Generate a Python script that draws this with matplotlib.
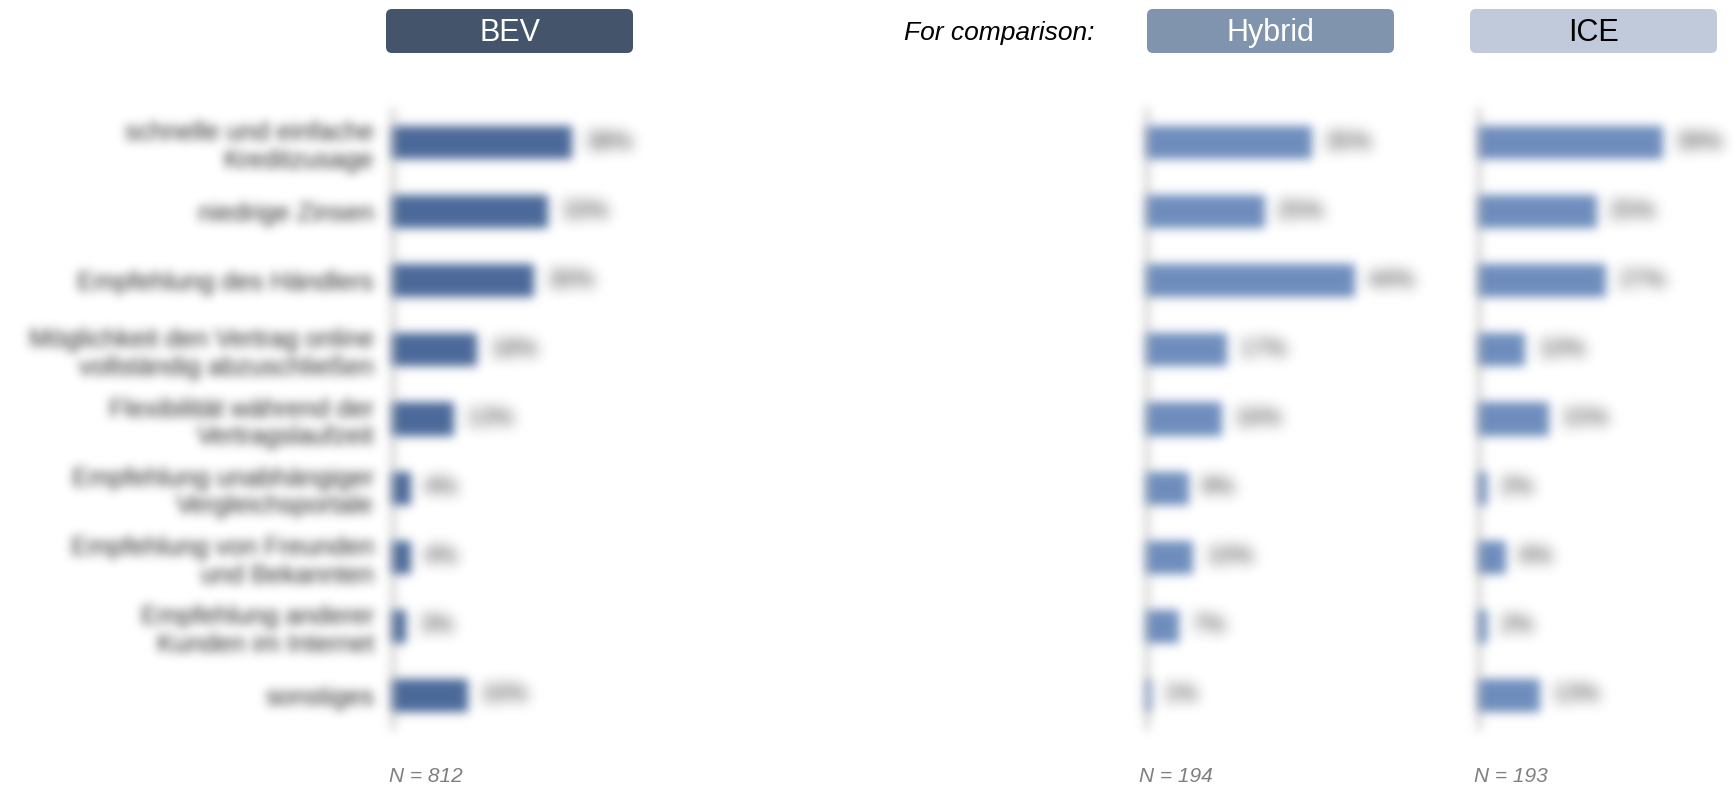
import numpy as np
import matplotlib
matplotlib.use("Agg")
import matplotlib.pyplot as plt
from matplotlib.patches import FancyBboxPatch

plt.rcParams['font.family'] = ['Liberation Sans', 'DejaVu Sans']

# Gründe für die Wahl der Finanzierung, nach Antriebsart (Anteile in %)
categories = [
    "schnelle und einfache\nKreditzusage",
    "niedrige Zinsen",
    "Empfehlung des Händlers",
    "Möglichkeit den Vertrag online\nvollständig abzuschließen",
    "Flexibilität während der\nVertragslaufzeit",
    "Empfehlung unabhängiger\nVergleichsportale",
    "Empfehlung von Freunden\nund Bekannten",
    "Empfehlung anderer\nKunden im Internet",
    "sonstiges",
]
bev = [38, 33, 30, 18, 13, 4, 4, 3, 16]
hybrid = [35, 25, 44, 17, 16, 9, 10, 7, 1]
ice = [39, 25, 27, 10, 15, 2, 6, 2, 13]

groups = ["BEV", "Hybrid", "ICE"]
sample_sizes = [812, 194, 193]

W, H = 1734, 788
px_per_pct = 4.74


def blur(img, dpi, sigma=5.0):
    # gaussian blur for agg_filter; colours are premultiplied so edges don't darken
    r = int(3 * sigma)
    x = np.arange(-r, r + 1)
    k = np.exp(-x ** 2 / (2 * sigma ** 2))
    k /= k.sum()
    p = np.pad(img, ((r, r), (r, r), (0, 0)))
    p[..., :3] *= p[..., 3:4]
    tmp = np.zeros_like(p)
    for i, w in enumerate(k):
        tmp += w * np.roll(p, i - r, axis=0)
    out = np.zeros_like(p)
    for i, w in enumerate(k):
        out += w * np.roll(tmp, i - r, axis=1)
    a = out[..., 3:4]
    out[..., :3] = np.where(a > 1e-6, out[..., :3] / np.maximum(a, 1e-6), 0)
    return np.clip(out, 0, 1), -r, -r


fig = plt.figure(figsize=(W / 100, H / 100), dpi=100)

# pixel-coordinate layer for headers and footers
canvas = fig.add_axes([0, 0, 1, 1], zorder=0)
canvas.set_xlim(0, W)
canvas.set_ylim(H, 0)
canvas.axis("off")

panels = [
    (bev, 392, 310, "#4a6899"),
    (hybrid, 1146, 292, "#6e8dbd"),
    (ice, 1478, 252, "#6e8dbd"),
]
ax_top, ax_bottom = 108, 730
y = np.arange(len(categories))
text_color = "#222222"

for idx, (vals, left, width, color) in enumerate(panels):
    ax = fig.add_axes([left / W, (H - ax_bottom) / H, width / W, (ax_bottom - ax_top) / H], zorder=1)
    bars = ax.barh(y, vals, height=0.48, color=color)
    ax.set_xlim(0, width / px_per_pct)
    ax.set_ylim(len(categories) - 0.5, -0.5)
    for s in ax.spines.values():
        s.set_visible(False)
    ax.set_xticks([])
    ax.patch.set_visible(False)
    line = ax.axvline(0, color="#8c8c8c", lw=2.5)
    line.set_agg_filter(blur)
    for b in bars:
        b.set_agg_filter(blur)
    texts = ax.bar_label(bars, labels=[f"{v}%" for v in vals], padding=9,
                         fontsize=17, color=text_color)
    for t in texts:
        t.set_agg_filter(blur)
    if idx == 0:
        ax.set_yticks(y)
        ax.set_yticklabels(categories, fontsize=18.5, color=text_color, linespacing=1.2)
        ax.tick_params(axis="y", length=0, pad=13)
        for t in ax.get_yticklabels():
            t.set_agg_filter(blur)
    else:
        ax.set_yticks([])

# header boxes
headers = [
    ("BEV", 386, 633, "#44546a", "white"),
    ("Hybrid", 1147, 1394, "#8094ae", "white"),
    ("ICE", 1470, 1717, "#c1cada", "black"),
]
for label, x0, x1, face, tc in headers:
    box = FancyBboxPatch((x0, 9), x1 - x0, 44, boxstyle="round,pad=0,rounding_size=6",
                         facecolor=face, edgecolor="none")
    canvas.add_patch(box)
    canvas.text((x0 + x1) / 2, 33, label, ha="center", va="center", fontsize=22, color=tc)

canvas.text(1095, 33, "For comparison:", ha="right", va="center", fontsize=19,
            style="italic", color="black")

for n, x0 in zip(sample_sizes, [389, 1139, 1474]):
    canvas.text(x0, 777, f"N = {n}", ha="left", va="center", fontsize=15,
                style="italic", color="#7f7f7f")

fig.savefig("out.png", dpi=100, facecolor="white")
